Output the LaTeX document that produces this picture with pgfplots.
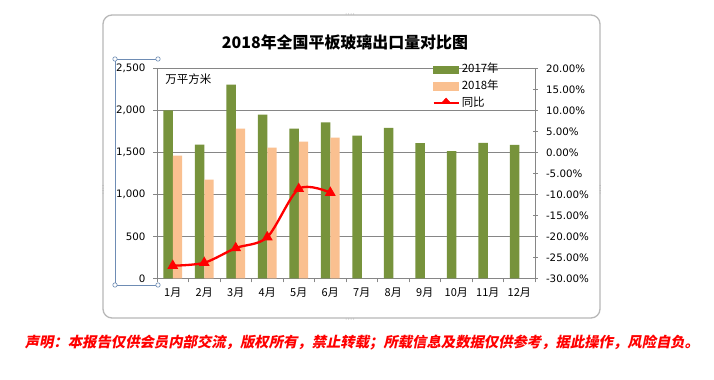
\documentclass[border=0pt]{standalone}
\usepackage{pgfplots}
\pgfplotsset{compat=1.18}
\usepackage{fontspec}
\setmainfont{Noto Sans CJK SC}
\newfontfamily\dv{DejaVu Sans}
\newfontfamily\cjkslant{Noto Sans CJK SC}[FakeSlant=0.2]
\definecolor{g17}{HTML}{77933C}
\definecolor{p18}{HTML}{FAC090}
\definecolor{axgray}{HTML}{868686}
\definecolor{selblue}{RGB}{110,140,180}
\begin{document}
\begin{tikzpicture}[x=1bp,y=1bp]
\path[use as bounding box, fill=white] (0,0) rectangle (714,379);
\draw[color=black!28, rounded corners=9bp, line width=1.3bp] (103,61) rectangle (600,364);
\node at (345,337) {\bfseries\fontsize{16}{19}\selectfont 2018年全国平板玻璃出口量对比图};
\node[text=red] at (362,36) {\cjkslant\bfseries\fontsize{14.4}{17}\selectfont 声明：本报告仅供会员内部交流，版权所有，禁止转载；所载信息及数据仅供参考，据此操作，风险自负。};
\begin{axis}[
  at={(157bp,100.7bp)}, anchor=south west,
  width=378bp, height=210bp, scale only axis,
  xmin=0.5, xmax=12.5, ymin=0, ymax=2500,
  ybar=0pt, bar width=9.3bp,
  axis y line*=left, axis x line*=bottom,
  axis line style={axgray, line width=0.8bp},
  ytick={0,500,...,2500},
  ymajorgrids, grid style={axgray, line width=0.8bp},
  xtick={1,...,12},
  xticklabels={1月,2月,3月,4月,5月,6月,7月,8月,9月,10月,11月,12月},
  major x tick style={draw=none},
  minor xtick={0.5,1.5,...,12.5},
  minor x tick style={axgray, line width=0.8bp},
  minor tick length=4bp,
  y tick style={axgray, line width=0.8bp},
  major tick length=4bp,
  tick align=outside,
  x tick label style={font=\fontsize{11}{12}\selectfont, yshift=-2bp},
  y tick label style={font=\dv\fontsize{10.3}{12}\selectfont, xshift=-4bp},
  /pgf/number format/assume math mode=true,
  /pgf/number format/1000 sep={,},
  clip=false,
]
\addplot[fill=g17, draw=none] coordinates {(1,2000) (2,1592) (3,2305) (4,1950) (5,1783) (6,1855) (7,1700) (8,1790) (9,1610) (10,1515) (11,1611) (12,1587)};
\addplot[fill=p18, draw=none] coordinates {(1,1461) (2,1174) (3,1783) (4,1556) (5,1628) (6,1676)};
\node[anchor=west, font=\fontsize{11.5}{13}\selectfont] at (rel axis cs:0.013,0.95) {万平方米};
\end{axis}
\begin{axis}[
  at={(157bp,100.7bp)}, anchor=south west,
  width=378bp, height=210bp, scale only axis,
  xmin=0.5, xmax=12.5, ymin=-30, ymax=20,
  axis y line*=right, axis x line=none,
  axis line style={axgray, line width=0.8bp},
  ytick={-30,-25,...,20},
  y tick style={axgray, line width=0.8bp},
  major tick length=5bp, tick align=center,
  yticklabel={\pgfmathprintnumber[fixed,fixed zerofill,precision=2]{\tick}\%},
  y tick label style={font=\dv\fontsize{10.3}{12}\selectfont, xshift=5bp},
  /pgf/number format/assume math mode=true,
  legend style={at={(rel axis cs:0.728,1.035)}, anchor=north west, draw=none, fill=none,
    font=\fontsize{11.5}{12}\selectfont, row sep=1.5bp, inner sep=0pt,
    /tikz/every even column/.append style={column sep=2bp}},
  legend cell align=left,
  clip=false,
]
\addlegendimage{legend image code/.code={\fill[g17] (0bp,-4.5bp) rectangle (25bp,3bp);}}
\addlegendentry{2017年}
\addlegendimage{legend image code/.code={\fill[p18] (0bp,-4.5bp) rectangle (25bp,3bp);}}
\addlegendentry{2018年}
\addlegendimage{legend image code/.code={\draw[red, line width=2.4bp] (0bp,-1bp) -- (25bp,-1bp); \fill[red] (8bp,-1bp) -- (17bp,-1bp) -- (12.5bp,4bp) -- cycle;}}
\addlegendentry{同比}
\addplot[red, line width=2.3bp, smooth, mark=triangle*, mark size=4bp, mark options={solid, fill=red}] coordinates {(1,-27.0) (2,-26.3) (3,-22.8) (4,-20.2) (5,-8.7) (6,-9.6)};
\end{axis}
% selection handles on left axis
\draw[selblue, line width=0.6bp] (157,94) -- (115,94) -- (115,320) -- (157,320);
\foreach \p in {(115,94),(158,94),(115,320),(158,320)} \draw[selblue, fill=white, line width=0.6bp] \p circle (2.2bp);
\foreach \i in {0,1,2,3} {\fill[black!35] (346+2.5*\i,365) circle (0.5bp); \fill[black!35] (346+2.5*\i,60) circle (0.5bp);
  \fill[black!35] (103,186+2.5*\i) circle (0.5bp); \fill[black!35] (600,186+2.5*\i) circle (0.5bp);}
\end{tikzpicture}
\end{document}
